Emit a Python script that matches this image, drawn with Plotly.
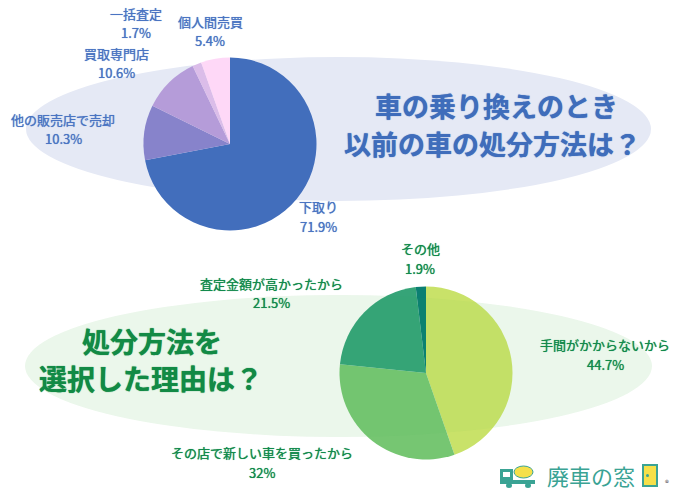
import plotly.graph_objects as go

W = 680
H = 493

# data
top_labels = ['下取り', '他の販売店で売却', '買取専門店', '一括査定', '個人間売買']
top_values = [71.9, 10.3, 10.6, 1.7, 5.4]
top_text = ['71.9%', '10.3%', '10.6%', '1.7%', '5.4%']
top_colors = ['#426ebc', '#8783cb', '#b59cd9', '#dbbde9', '#fed8f7']

bottom_labels = ['手間がかからないから', 'その店で新しい車を買ったから', '査定金額が高かったから', 'その他']
bottom_values = [44.7, 32, 21.5, 1.9]
bottom_text = ['44.7%', '32%', '21.5%', '1.9%']
bottom_colors = ['#c9e269', '#76c672', '#36a478', '#0b7f72']

title_top = ['車の乗り換えのとき', '以前の車の処分方法は？']
title_bottom = ['処分方法を', '選択した理由は？']

BLUE = '#4a74c2'
GREEN = '#128a4c'
TEAL = '#3aa394'
FONT = 'Noto Sans CJK JP'


def px_x(v):
    return v / W


def px_y(v):
    return 1 - v / H


def pie_domain(cx, cy, r):
    return dict(x=[px_x(cx - r), px_x(cx + r)], y=[px_y(cy + r), px_y(cy - r)])


def put_text(cx, cy, text, size, color, weight=400, shadow='none', height=None):
    fig.add_annotation(x=px_x(cx), y=px_y(cy), xref='paper', yref='paper', showarrow=False,
                       xanchor='center', yanchor='middle', text=text, height=height,
                       font=dict(family=FONT, size=size, color=color, weight=weight, shadow=shadow))


def put_shape(kind, x0, y0, x1, y1, fill, line=0, line_color=None, layer='above'):
    fig.add_shape(type=kind, xref='paper', yref='paper', layer=layer,
                  x0=px_x(x0), x1=px_x(x1), y0=px_y(y1), y1=px_y(y0), fillcolor=fill,
                  line=dict(width=line, color=line_color))


fig = go.Figure()
fig.add_trace(go.Pie(labels=top_labels, values=top_values, sort=False, direction='clockwise',
                     rotation=0, textinfo='none', showlegend=False,
                     marker=dict(colors=top_colors, line=dict(width=0)),
                     domain=pie_domain(230, 144, 86.5)))
fig.add_trace(go.Pie(labels=bottom_labels, values=bottom_values, sort=False, direction='clockwise',
                     rotation=0, textinfo='none', showlegend=False,
                     marker=dict(colors=bottom_colors, line=dict(width=0)),
                     domain=pie_domain(426, 373, 86.5)))

# 楕円の背景
put_shape('circle', 26, 57, 651, 201, '#e5e9f5', layer='below')
put_shape('circle', 25, 295, 652, 437, '#f3faf2', layer='below')
put_shape('circle', 25, 295, 652, 437, 'rgba(60,170,70,0.04)')

# ラベル
top_pos = [(318, 207, 226), (63, 119, 138), (116, 54, 72), (136, 14, 32), (210, 22, 41)]
for p, n, t in zip(top_pos, top_labels, top_text):
    put_text(p[0], p[1], n, 13, BLUE, shadow='0 0 0.7px ' + BLUE)
    put_text(p[0], p[2], t, 13, BLUE, shadow='0 0 0.7px ' + BLUE)

bottom_pos = [(605, 344, 364), (262, 452, 472), (271, 283, 302), (420, 249, 268)]
for p, n, t in zip(bottom_pos, bottom_labels, bottom_text):
    put_text(p[0], p[1], n, 13, GREEN, shadow='0 0 0.7px ' + GREEN)
    put_text(p[0], p[2], t, 13, GREEN, shadow='0 0 0.7px ' + GREEN)

# 見出し
for cy, cx, t in zip([105, 143], [496, 492], title_top):
    put_text(cx, cy, t, 27, '#3f6dbb', 700, '0 0 1px #3f6dbb', 34)
for cy, cx, t in zip([341, 378], [151.5, 150.5], title_bottom):
    put_text(cx, cy, t, 28, '#128a45', 700, '0 0 1px #128a45', 34)

# ロゴ
put_text(591, 475, '廃車の窓', 22, TEAL)
put_shape('rect', 643, 465, 657, 486, '#f5e04a', 2, TEAL)
put_shape('circle', 646, 474, 649, 477, TEAL)
put_shape('rect', 500, 469, 513, 483, TEAL)
put_shape('rect', 503, 472, 510, 477, 'white')
put_shape('rect', 500, 480, 535, 484, TEAL)
put_shape('circle', 514, 466, 533, 478, '#f5e04a', 1, TEAL)
put_shape('circle', 506, 483, 512, 488, TEAL)
put_shape('circle', 525, 483, 531, 488, TEAL)
put_text(667, 482, '®', 8, '#444444')

fig.update_layout(width=W, height=H, margin=dict(l=0, r=0, t=0, b=0),
                  paper_bgcolor='white', plot_bgcolor='white', font=dict(family=FONT))

fig.write_html('out.html', config=dict(displayModeBar=False),
               post_script="document.body.style.margin='0';")
